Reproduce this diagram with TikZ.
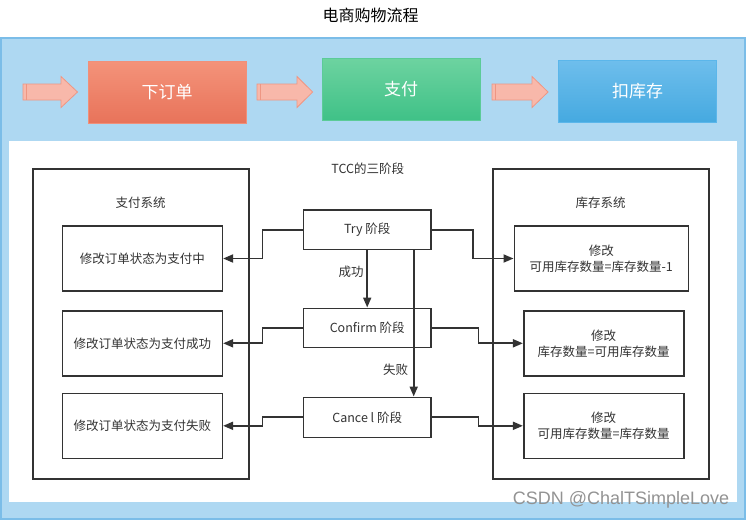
\documentclass[tikz,border=0pt]{standalone}
\usepackage{fontspec}
\setmainfont{Noto Sans CJK SC}
\newfontfamily\wmfont{Liberation Sans}
\usetikzlibrary{arrows.meta}
\definecolor{bgblue}{HTML}{AED8F2}
\definecolor{bgborder}{HTML}{7BBDE8}
\definecolor{linegray}{HTML}{333333}
\definecolor{txtgray}{HTML}{333333}
\definecolor{arrfill}{HTML}{F8B8AA}
\definecolor{arrdraw}{HTML}{EE9683}
\definecolor{orderborder}{HTML}{F0907A}
\definecolor{payborder}{HTML}{5CCB98}
\definecolor{stockborder}{HTML}{5BB6EA}
\tikzset{
  wbox/.style={draw=linegray, line width=1.6pt, fill=white, inner sep=0pt, align=center,
    text=txtgray, font=\fontsize{12.5}{16}\selectfont},
  phase/.style={wbox, minimum width=127.7pt, minimum height=39.3pt},
  lbox/.style={wbox, minimum width=160pt, minimum height=65pt},
  sysbox/.style={draw=linegray, line width=1.6pt, fill=white, minimum width=216pt, minimum height=310pt},
  conn/.style={draw=linegray, line width=1.8pt, -{Triangle[length=10pt,width=8pt]}},
  topbox/.style={draw=#1, line width=0.8pt, inner sep=0pt, text=white,
    font=\fontsize{17}{19}\selectfont, minimum width=158pt, minimum height=62pt},
  lbl/.style={text=txtgray, font=\fontsize{12.5}{15}\selectfont, inner sep=0pt},
  bigarrow/.style={fill=arrfill, draw=arrdraw, line width=0.8pt, line join=miter}
}
\begin{document}
\begin{tikzpicture}[x=1pt,y=-1pt]
\useasboundingbox (0,0) rectangle (746,520);
\fill[white] (0,0) rectangle (746,520);
% title
\node[lbl, font=\fontsize{16}{18}\selectfont, text=black] (title) at (370.5,15) {电商购物流程};
% blue background
\draw[fill=bgblue, draw=bgborder, line width=1.5pt] (1,38) rectangle (745,519);
\fill[white] (9,141) rectangle (737,502);
% top process boxes
\node[topbox=orderborder, top color={rgb,255:red,244;green,147;blue,122}, bottom color={rgb,255:red,232;green,115;blue,90}] (order) at (167,92) {下订单};
\node[topbox=payborder, top color={rgb,255:red,109;green,211;blue,160}, bottom color={rgb,255:red,63;green,193;blue,135}] (pay) at (401,89.5) {支付};
\node[topbox=stockborder, top color={rgb,255:red,110;green,190;blue,236}, bottom color={rgb,255:red,69;green,169;blue,224}] (stock) at (637.5,91.5) {扣库存};
% big arrows
\foreach \x/\h/\tip in {23/61/77.5, 257/297/312.6, 492/532/548}{
  \draw[bigarrow] (\x,84) -- (\h,84) -- (\h,76.5) -- (\tip,92) -- (\h,107.5) -- (\h,100) -- (\x,100) -- cycle;
  \draw[arrdraw, line width=0.6pt] (\x+3,84) -- (\x+3,100);
}
% systems
\node[sysbox] (paysys) at (140.7,324) {};
\node[sysbox] (stocksys) at (600.7,324) {};
\node[lbl] (paysyst) at (140.7,202.7) {支付系统};
\node[lbl] (stocksyst) at (600.7,202.7) {库存系统};
\node[lbl] (tcct) at (367.7,168.3) {TCC的三阶段};
% left boxes
\node[lbox] (lb1) at (142.3,258.5) {修改订单状态为支付中};
\node[lbox] (lb2) at (142.3,343.3) {修改订单状态为支付成功};
\node[lbox] (lb3) at (142.3,425.8) {修改订单状态为支付失败};
% right boxes
\node[lbox, minimum width=174pt] (rb1) at (601.3,258.5) {修改\\可用库存数量=库存数量-1};
\node[lbox] (rb2) at (603.7,343.3) {修改\\库存数量=可用库存数量};
\node[lbox] (rb3) at (603.7,425.8) {修改\\可用库存数量=库存数量};
% phases
\node[phase] (try) at (367.2,229.7) {Try 阶段};
\node[phase, minimum height=39pt] (conf) at (367.2,327.8) {Confirm 阶段};
\node[phase, minimum height=40pt] (canc) at (367.2,417.3) {Cance l 阶段};
% connectors left
\draw[conn] (try.west) -- ++(-40,0) |- (lb1.east);
\draw[conn] (conf.west) -- ++(-40,0) |- (lb2.east);
\draw[conn] (canc.west) -- ++(-40,0) |- (lb3.east);
% connectors right
\draw[conn] (try.east) -- ++(41.3,0) |- (rb1.west);
\draw[conn] (conf.east) -- ++(46.7,0) |- (rb2.west);
\draw[conn] (canc.east) -- ++(46.7,0) |- (rb3.west);
% vertical
\draw[conn] (try.south) -- (conf.north);
\draw[conn] ([xshift=46.5pt]try.south) -- ([xshift=46.5pt]canc.north);
\node[lbl] (ok) at (351,271.7) {成功};
\node[lbl] (fail) at (395.7,369.3) {失败};
% watermark
\node[text=gray!85, font=\wmfont\fontsize{18}{20}\selectfont, inner sep=0pt] (wm) at (621,500) {CSDN @ChalTSimpleLove};
\end{tikzpicture}
\end{document}
